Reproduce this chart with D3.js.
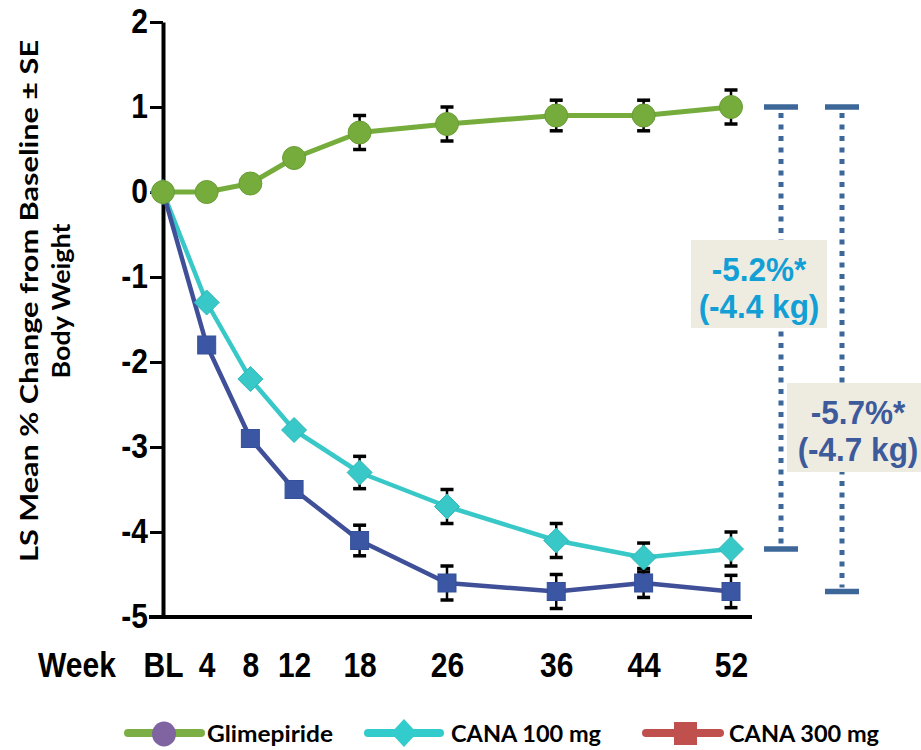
<!DOCTYPE html>
<html>
<head>
<meta charset="utf-8">
<script src="https://cdn.jsdelivr.net/npm/d3@7"></script>
<style>
  html, body { margin: 0; padding: 0; background: #ffffff; }
  svg { display: block; }
</style>
</head>
<body>
<svg id="chart" width="921" height="750"></svg>
<script>
// ---------------- data ----------------
const weeks = [0, 4, 8, 12, 18, 26, 36, 44, 52];
const weekLabels = ["BL", "4", "8", "12", "18", "26", "36", "44", "52"];
const yTicks = [-5, -4, -3, -2, -1, 0, 1, 2];

const glimepiride   = [0, 0.0, 0.1, 0.4, 0.7, 0.8, 0.9, 0.9, 1.0];
const glimepirideSE = [0, 0.05, 0.05, 0.05, 0.2, 0.2, 0.18, 0.18, 0.2];
const cana100       = [0, -1.3, -2.2, -2.8, -3.3, -3.7, -4.1, -4.3, -4.2];
const cana100SE     = [0, 0.05, 0.05, 0.05, 0.19, 0.2, 0.2, 0.17, 0.2];
const cana300       = [0, -1.8, -2.9, -3.5, -4.1, -4.6, -4.7, -4.6, -4.7];
const cana300SE     = [0, 0.05, 0.05, 0.05, 0.18, 0.2, 0.2, 0.17, 0.19];

const seriesNames = ["Glimepiride", "CANA 100 mg", "CANA 300 mg"];
const annot100 = ["-5.2%*", "(-4.4 kg)"];
const annot300 = ["-5.7%*", "(-4.7 kg)"];

// ---------------- setup ----------------
const svg = d3.select("#chart");
const x = d3.scaleLinear().domain([0, 52]).range([163, 731]);
const y = d3.scaleLinear().domain([-5, 2]).range([617, 22]);

const C = {
  green: "#76AC3C", greenDark: "#6A9C35",
  cyan: "#38C8C8", blueLine: "#3F4F98", blueMark: "#3B57A4",
  bracket: "#3D6699", box: "#EEEBE1",
  txt100: "#119FD5", txt300: "#3D5A9B",
  legPurple: "#8064A2", legRed: "#C0504D", legCyan: "#33CCCC", legGreen: "#7BAF45"
};
const numFont = "'Liberation Sans', Arial, sans-serif";
const calFont = "Lato, 'Open Sans', sans-serif";

// ---------------- y axis ----------------
const yAxis = d3.axisLeft(y).tickValues(yTicks).tickSize(13).tickSizeOuter(0).tickPadding(2)
  .tickFormat(d => String(d));
const gy = svg.append("g").attr("transform", `translate(${x(0)},0)`).call(yAxis);
gy.select(".domain").attr("stroke", "#000").attr("stroke-width", 4);
gy.selectAll(".tick line").attr("stroke", "#000").attr("stroke-width", 3);
gy.selectAll(".tick text")
  .attr("font-family", numFont).attr("font-weight", "bold").attr("font-size", 30)
  .attr("fill", "#000").attr("dy", "0.3em")
  .attr("transform", "scale(1,1.18)");

// ---------------- x axis ----------------
const xAxis = d3.axisBottom(x).tickValues(weeks).tickSize(0)
  .tickFormat((d, i) => weekLabels[i]);
const gx = svg.append("g").attr("transform", `translate(0,${y(-5)})`).call(xAxis);
gx.select(".domain").remove();
gx.selectAll(".tick text")
  .attr("font-family", numFont).attr("font-weight", "bold").attr("font-size", 30)
  .attr("fill", "#000").attr("y", 51).attr("dy", 0)
  .attr("transform", "scale(1,1.18)");
svg.append("line")
  .attr("x1", x(0) - 14).attr("x2", x(52) + 21)
  .attr("y1", y(-5)).attr("y2", y(-5))
  .attr("stroke", "#000").attr("stroke-width", 4);

svg.append("text")
  .attr("transform", `translate(77,${y(-5) + 60}) scale(1,1.18)`)
  .attr("text-anchor", "middle")
  .attr("font-family", numFont).attr("font-weight", "bold").attr("font-size", 30)
  .text("Week");

// ---------------- y title ----------------
const yt = svg.append("g").attr("transform", "translate(0,301) rotate(-90)");
yt.append("text").attr("x", 0).attr("y", 38).attr("text-anchor", "middle")
  .attr("font-family", calFont).attr("font-weight", "bold").attr("font-size", 25)
  .attr("textLength", 522).attr("lengthAdjust", "spacingAndGlyphs")
  .text("LS Mean % Change from Baseline \u00B1 SE");
yt.append("text").attr("x", 0).attr("y", 70).attr("text-anchor", "middle")
  .attr("font-family", calFont).attr("font-weight", "bold").attr("font-size", 25)
  .attr("textLength", 155).attr("lengthAdjust", "spacingAndGlyphs")
  .text("Body Weight");

// ---------------- series ----------------
const mk = (vals, se) => weeks.map((w, i) => ({ w, v: vals[i], se: se[i] }));
const sG = mk(glimepiride, glimepirideSE);
const s1 = mk(cana100, cana100SE);
const s3 = mk(cana300, cana300SE);
const line = d3.line().x(d => x(d.w)).y(d => y(d.v));

function drawLine(data, color, width) {
  svg.append("path").datum(data).attr("d", line)
    .attr("fill", "none").attr("stroke", color).attr("stroke-width", width)
    .attr("stroke-linejoin", "round");
}
function drawErr(data) {
  const g = svg.append("g");
  data.filter(d => d.se > 0).forEach(d => {
    g.append("line").attr("x1", x(d.w)).attr("x2", x(d.w))
      .attr("y1", y(d.v + d.se)).attr("y2", y(d.v - d.se))
      .attr("stroke", "#000").attr("stroke-width", 2.5);
    [d.v + d.se, d.v - d.se].forEach(v => {
      g.append("line").attr("x1", x(d.w) - 6.5).attr("x2", x(d.w) + 6.5)
        .attr("y1", y(v)).attr("y2", y(v))
        .attr("stroke", "#000").attr("stroke-width", 3.5);
    });
  });
}

drawLine(s1, C.cyan, 4.5);
drawLine(s3, C.blueLine, 4.5);
drawLine(sG, C.green, 5);

drawErr(s1); drawErr(s3); drawErr(sG);

// markers
svg.append("g").selectAll("path").data(s1).join("path")
  .attr("transform", d => `translate(${x(d.w)},${y(d.v)})`)
  .attr("d", "M0,-12.5L12.5,0L0,12.5L-12.5,0Z")
  .attr("fill", C.cyan).attr("stroke", "#2fb8b8").attr("stroke-width", 1);
svg.append("g").selectAll("rect").data(s3.filter(d => d.w > 0)).join("rect")
  .attr("x", d => x(d.w) - 9).attr("y", d => y(d.v) - 9)
  .attr("width", 18).attr("height", 18)
  .attr("fill", C.blueMark).attr("stroke", "#34509a").attr("stroke-width", 1);
svg.append("g").selectAll("circle").data(sG).join("circle")
  .attr("cx", d => x(d.w)).attr("cy", d => y(d.v)).attr("r", 11.5)
  .attr("fill", C.green).attr("stroke", C.greenDark).attr("stroke-width", 1);

// ---------------- brackets ----------------
const last = weeks.length - 1;
function bracket(bx, v0, v1) {
  const g = svg.append("g");
  g.append("line").attr("x1", bx).attr("x2", bx)
    .attr("y1", y(v0) + 6).attr("y2", y(v1) - 4)
    .attr("stroke", C.bracket).attr("stroke-width", 5).attr("stroke-dasharray", "5,6.5");
  [v0, v1].forEach(v => g.append("line")
    .attr("x1", bx - 17).attr("x2", bx + 17).attr("y1", y(v)).attr("y2", y(v))
    .attr("stroke", C.bracket).attr("stroke-width", 5.5));
}
bracket(781, glimepiride[last], cana100[last]);
bracket(842, glimepiride[last], cana300[last]);

function annBox(x0, y0, w, h, lines, color, cx) {
  svg.append("rect").attr("x", x0).attr("y", y0).attr("width", w).attr("height", h)
    .attr("fill", C.box);
  lines.forEach((t, i) => {
    svg.append("text")
      .attr("transform", `translate(${cx},${y0 + 41 + i * 37}) scale(1,1.05)`)
      .attr("text-anchor", "middle")
      .attr("font-family", numFont).attr("font-weight", "bold").attr("font-size", 31.5)
      .attr("fill", color).text(t);
  });
}
annBox(691, 240, 136, 88, annot100, C.txt100, 759);
annBox(787, 383, 134, 89, annot300, C.txt300, 858);

// ---------------- legend ----------------
const ly = 733;
const leg = svg.append("g");
function legLine(x1, x2, color) {
  leg.append("line").attr("x1", x1).attr("x2", x2).attr("y1", ly).attr("y2", ly)
    .attr("stroke", color).attr("stroke-width", 8).attr("stroke-linecap", "round");
}
function legText(xp, t, len) {
  leg.append("text").attr("x", xp).attr("y", ly + 9)
    .attr("font-family", calFont).attr("font-weight", "bold").attr("font-size", 23)
    .attr("textLength", len).attr("lengthAdjust", "spacingAndGlyphs").text(t);
}
legLine(128, 201, C.legGreen);
leg.append("ellipse").attr("cx", 164).attr("cy", ly + 1).attr("rx", 12).attr("ry", 12.5)
  .attr("fill", C.legPurple);
legText(207, seriesNames[0], 126);

legLine(368, 440, C.legCyan);
leg.append("path").attr("transform", `translate(404,${ly})`)
  .attr("d", "M0,-14L13,0L0,14L-13,0Z").attr("fill", C.legCyan);
legText(451, seriesNames[1], 150);

legLine(646, 720, C.legRed);
leg.append("rect").attr("x", 674).attr("y", ly - 11).attr("width", 23).attr("height", 23)
  .attr("fill", C.legRed);
legText(729, seriesNames[2], 150);
</script>
</body>
</html>
